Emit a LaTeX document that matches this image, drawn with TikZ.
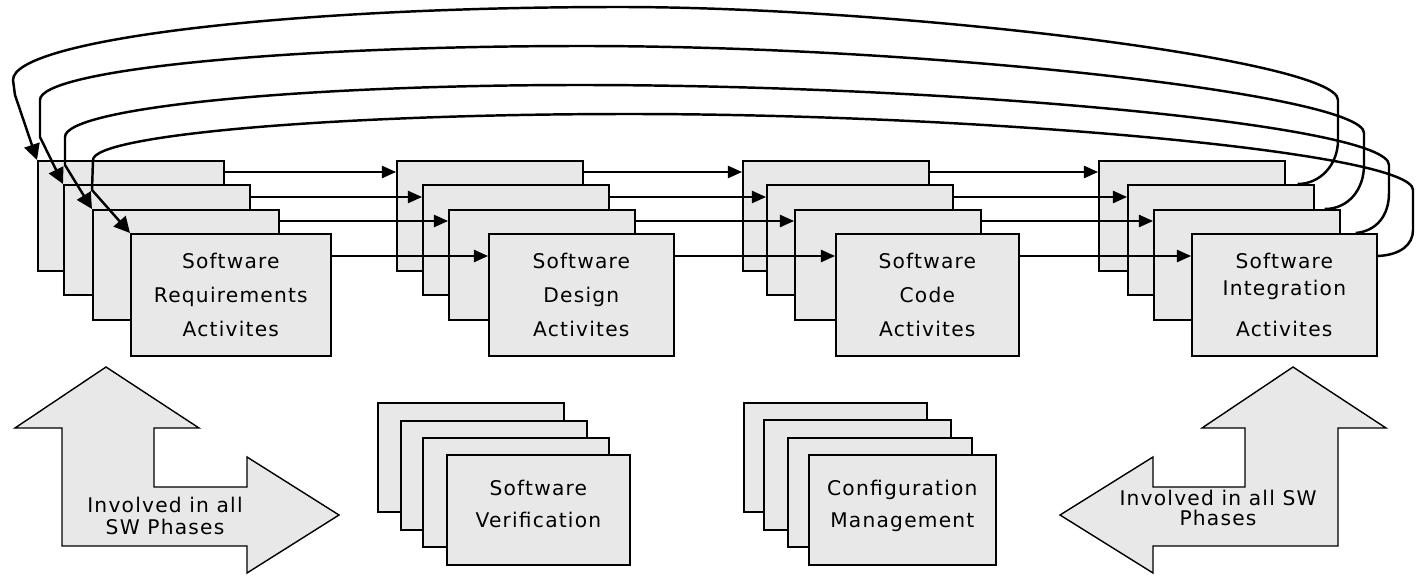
\documentclass[tikz,border=0pt]{standalone}
\usepackage{fontspec}
\newfontfamily\boxfont[LetterSpace=6]{DejaVu Sans}
\usepackage{tikz}
\usetikzlibrary{arrows.meta}
\definecolor{sheetgray}{RGB}{232,232,232}

\tikzset{
  sheet/.style={draw, fill=sheetgray, line width=1pt, anchor=north west,
    inner sep=0pt, minimum width=3.72cm, minimum height=2.2cm},
  front/.style={sheet, minimum height=2.44cm, align=center,
    font=\boxfont\fontsize{11.5}{19.5}\selectfont},
  lowfront/.style={sheet, align=center,
    font=\boxfont\fontsize{11.5}{18.5}\selectfont},
  flow/.style={line width=0.8pt, -{Triangle[length=8pt,width=7pt]}},
  backflow/.style={line width=1.4pt, -{Triangle[length=9pt,width=9pt]}},
  bigarrow/.style={draw, fill=sheetgray, line width=0.8pt}
}

\begin{document}
\begin{tikzpicture}[x=0.02cm, y=0.02cm]
    \useasboundingbox (0,0) rectangle (1416,-575);

    % requirements
    \node[sheet] (r1) at (37,-160) {};
    \node[sheet] (r2) at (63,-184) {};
    \node[sheet] (r3) at (92,-209) {};
    \node[front, minimum width=4cm] (r4) at (130,-233)
        {Software\\Requirements\\Activites};

    % design
    \node[sheet] (d1) at (396,-160) {};
    \node[sheet] (d2) at (422,-184) {};
    \node[sheet] (d3) at (448,-209) {};
    \node[front, minimum width=3.7cm] (d4) at (488,-233)
        {Software\\Design\\Activites};

    % code
    \node[sheet] (c1) at (742,-160) {};
    \node[sheet] (c2) at (766,-184) {};
    \node[sheet] (c3) at (794,-209) {};
    \node[front, minimum width=3.66cm] (c4) at (835,-233)
        {Software\\Code\\Activites};

    % integration
    \node[sheet] (n1) at (1098,-160) {};
    \node[sheet] (n2) at (1127,-184) {};
    \node[sheet] (n3) at (1153,-209) {};
    \node[front, minimum width=3.7cm] (n4) at (1191,-233)
        {Software\\[-0.14cm]Integration\\[0.12cm]Activites};

    % phase to phase
    \foreach \a/\b in {r/d, d/c, c/n} {
        \draw[flow] ([yshift=-0.24cm]\a1.north east) -- ([yshift=-0.24cm]\b1.north west);
        \draw[flow] ([yshift=-0.26cm]\a2.north east) -- ([yshift=-0.26cm]\b2.north west);
        \draw[flow] ([yshift=-0.24cm]\a3.north east) -- ([yshift=-0.24cm]\b3.north west);
        \draw[flow] ([yshift=-0.46cm]\a4.north east) -- ([yshift=-0.46cm]\b4.north west);
    }

    % feedback to requirements
    \coordinate (s1) at ([xshift=-0.34cm]n2.north east);
    \coordinate (s2) at ([xshift=-0.32cm]n3.north east);
    \coordinate (s3) at ([xshift=-0.44cm]n4.north east);
    \coordinate (s4) at ([yshift=-0.46cm]n4.north east);

    \draw[backflow] (s1) .. controls (1320,-184) and (1338,-165) .. (1338,-140) -- (1338,-100)
        .. controls (1338,-60) and (900,-7) .. (620,-7)
        .. controls (285,-7) and (13,-40) .. (13,-80) -- (15,-95) -- (r1.north west);
    \draw[backflow] (s2) .. controls (1348,-209) and (1364,-190) .. (1364,-165) -- (1364,-133)
        .. controls (1364,-95) and (930,-46) .. (583,-46)
        .. controls (284,-46) and (40,-70) .. (40,-100) -- (40,-137) -- (r2.north west);
    \draw[backflow] (s3) .. controls (1377,-231) and (1389,-215) .. (1389,-193) -- (1389,-165)
        .. controls (1389,-125) and (950,-85) .. (580,-85)
        .. controls (297,-85) and (65,-108) .. (65,-137) -- (65,-165) -- (r3.north west);
    \draw[backflow] (s4) .. controls (1400,-255) and (1413,-245) .. (1413,-230) -- (1413,-190)
        .. controls (1413,-152) and (980,-114) .. (630,-114)
        .. controls (335,-114) and (93,-135) .. (93,-160) -- (92,-190) -- (r4.north west);

    % verification
    \node[sheet, minimum height=2.18cm] (v1) at (377,-402) {};
    \node[sheet, minimum height=2.18cm] (v2) at (400,-420) {};
    \node[sheet, minimum height=2.18cm] (v3) at (422,-437) {};
    \node[lowfront, minimum width=3.66cm] (v4) at (446,-454)
        {Software\\Verification\\[-0.4cm]};

    % configuration
    \node[sheet, minimum width=3.66cm, minimum height=2.18cm] (m1) at (743,-402) {};
    \node[sheet, minimum width=3.74cm, minimum height=2.2cm] (m2) at (763,-419) {};
    \node[sheet, minimum width=3.68cm, minimum height=2.18cm] (m3) at (787,-437) {};
    \node[lowfront, minimum width=3.74cm] (m4) at (808,-454)
        {Configuration\\Management\\[-0.4cm]};

    % involved in all phases
    \draw[bigarrow] (106,-367) -- (199,-428) -- (154,-428) -- (154,-487) -- (247,-487)
        -- (247,-457) -- (339,-515) -- (247,-573) -- (247,-546) -- (62,-546)
        -- (62,-428) -- (15,-428) -- cycle;
    \node[align=center, font=\boxfont\fontsize{11.5}{13}\selectfont] (allL)
        at (165,-516) {Involved in all\\SW Phases};

    \draw[bigarrow] (1293,-367) -- (1386,-428) -- (1338,-428) -- (1338,-546) -- (1153,-546)
        -- (1153,-573) -- (1060,-515) -- (1153,-457) -- (1153,-487) -- (1245,-487)
        -- (1245,-428) -- (1202,-428) -- cycle;
    \node[align=center, font=\boxfont\fontsize{11.5}{11.5}\selectfont] (allR)
        at (1218,-508) {Involved in all SW\\Phases};
\end{tikzpicture}
\end{document}
